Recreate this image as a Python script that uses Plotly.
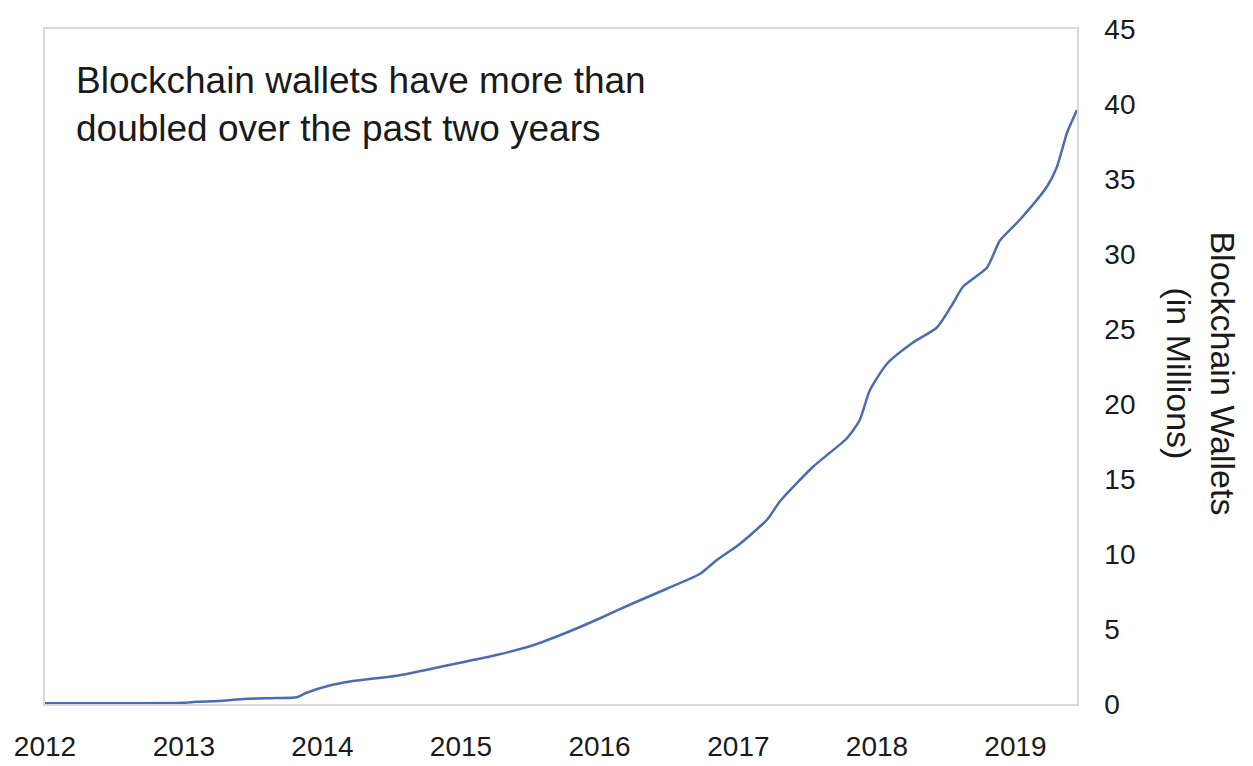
import plotly.graph_objects as go

dates = [
    "2012-01-01", "2012-07-01", "2013-01-01", "2013-02-01", "2013-04-01",
    "2013-06-15", "2013-09-01", "2013-10-25", "2013-11-20", "2014-01-15",
    "2014-03-15", "2014-07-20", "2014-12-01", "2015-04-10", "2015-07-08",
    "2015-10-10", "2016-01-01", "2016-03-28", "2016-06-28", "2016-09-23",
    "2016-11-05", "2017-01-01", "2017-03-18", "2017-04-20", "2017-07-16",
    "2017-10-13", "2017-11-16", "2017-12-13", "2018-01-28", "2018-04-06",
    "2018-06-08", "2018-07-20", "2018-08-15", "2018-10-18", "2018-11-21",
    "2019-01-13", "2019-03-25", "2019-04-20", "2019-05-17", "2019-06-12",
]
wallets_millions = [
    0.05, 0.05, 0.08, 0.15, 0.2,
    0.35, 0.4, 0.45, 0.75, 1.2,
    1.5, 1.9, 2.6, 3.3, 3.9,
    4.8, 5.7, 6.7, 7.7, 8.7,
    9.6, 10.6, 12.3, 13.5, 15.8,
    17.7, 18.9, 20.9, 22.7, 24.1,
    25.1, 26.7, 27.8, 29.1, 30.9,
    32.3, 34.5, 35.8, 38.1, 39.6,
]
year_ticks = ["2012", "2013", "2014", "2015", "2016", "2017", "2018", "2019"]
y_ticks = [0, 5, 10, 15, 20, 25, 30, 35, 40, 45]

FONT = "Liberation Sans, Arial, sans-serif"
TXT = "#1a1a1a"

fig = go.Figure()
fig.add_trace(go.Scatter(
    x=dates, y=wallets_millions, mode="lines",
    line=dict(color="#4a6cb3", width=2.5, shape="spline", smoothing=0.6),
    showlegend=False,
))

fig.update_layout(
    width=1253, height=766,
    margin=dict(l=45, r=176, t=29, b=62),
    paper_bgcolor="white", plot_bgcolor="white",
    font=dict(family=FONT, color=TXT),
    xaxis=dict(
        type="date",
        range=["2012-01-01", "2019-06-12"],
        tickvals=[f"{y}-01-01" for y in year_ticks],
        ticktext=year_ticks,
        tickfont=dict(size=28, family=FONT, color=TXT),
        showgrid=False, zeroline=False,
        showline=True, linecolor="#d9d9d9", linewidth=1.5, mirror=True,
        ticks="", ticklabelstandoff=17, automargin=False,
    ),
    yaxis=dict(
        side="right",
        range=[0, 45],
        tickvals=y_ticks,
        tickfont=dict(size=28, family=FONT, color=TXT),
        showgrid=False, zeroline=False,
        showline=True, linecolor="#d9d9d9", linewidth=1.5, mirror=True,
        ticks="", ticklabelstandoff=20, automargin=False,
    ),
    annotations=[
        dict(
            xref="paper", yref="paper", x=0.028, y=0.957,
            xanchor="left", yanchor="top", align="left", showarrow=False,
            text="Blockchain wallets have more than<br>doubled over the past two years",
            font=dict(size=37, family=FONT, color=TXT),
        ),
        dict(
            xref="paper", yref="paper", x=1.12, y=0.49,
            xanchor="center", yanchor="middle", showarrow=False,
            textangle=90,
            text="Blockchain Wallets<br>(in Millions)",
            font=dict(size=34, family=FONT, color=TXT),
        ),
    ],
)

fig.write_html("out.html")
